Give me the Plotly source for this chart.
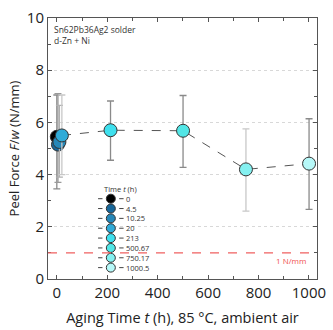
import plotly.graph_objects as go

# aging time (h) and peel force (N/mm)
times = [0, 4.5, 10.25, 20, 213, 500.67, 750.17, 1000.5]
labels = ["0", "4.5", "10.25", "20", "213", "500.67", "750.17", "1000.5"]
force = [5.45, 5.15, 5.25, 5.5, 5.7, 5.68, 4.2, 4.42]
err_up = [1.6, 1.95, 1.4, 1.55, 1.12, 1.35, 1.55, 1.72]
err_down = [2.0, 1.45, 1.35, 1.5, 1.15, 1.4, 1.6, 1.75]
colors = ["#000000", "#17679a", "#2587b8", "#30abd8", "#3ee0ee",
          "#52e6e6", "#84f0f0", "#b6f8f8"]
err_colors = ["#8a8a8a", "#9a9a9a", "#b0b0b0", "#c8c8c8", "#8a8a8a",
              "#8a8a8a", "#c8c8c8", "#8a8a8a"]

FONT = "Open Sans"
W, H = 333, 330
ML, MR, MT, MB = 48, 11, 7, 50

fig = go.Figure()

# connecting dashed line
fig.add_trace(go.Scatter(x=times, y=force, mode="lines",
                         line=dict(color="#555555", dash="dash", width=1),
                         hoverinfo="skip"))

for t, f, eu, ed, c, ec in zip(times, force, err_up, err_down, colors, err_colors):
    fig.add_trace(go.Scatter(
        x=[t], y=[f], mode="markers",
        marker=dict(size=13, color=c, line=dict(color="#333333", width=1)),
        error_y=dict(type="data", array=[eu], arrayminus=[ed], symmetric=False,
                     color=ec, thickness=1.3, width=3.5),
    ))

# hand-made compact legend on a pixel-scaled overlay axis
leg_x, leg_y0, leg_dy = 112, 196, 10.3
for i, (lab, c) in enumerate(zip(labels, colors)):
    yy = leg_y0 + i * leg_dy
    fig.add_trace(go.Scatter(x=[99, 103.5], y=[yy, yy], mode="lines", xaxis="x2", yaxis="y2",
                             line=dict(color="#444444", width=1), hoverinfo="skip"))
    fig.add_trace(go.Scatter(x=[120.5, 125], y=[yy, yy], mode="lines", xaxis="x2", yaxis="y2",
                             line=dict(color="#444444", width=1), hoverinfo="skip"))
    fig.add_trace(go.Scatter(x=[leg_x], y=[yy], mode="markers", xaxis="x2", yaxis="y2",
                             marker=dict(size=9, color=c, line=dict(color="#333333", width=1)),
                             hoverinfo="skip"))
    fig.add_annotation(x=126, y=yy, xref="x2", yref="y2", text=lab, showarrow=False,
                       xanchor="left", yanchor="middle", borderpad=0,
                       font=dict(family=FONT, size=7.5, color="#333333"))
fig.add_annotation(x=104, y=leg_y0 - 10, xref="x2", yref="y2", text="Time <i>t</i> (h)",
                   showarrow=False, xanchor="left", yanchor="middle", borderpad=0,
                   font=dict(family=FONT, size=7.5, color="#333333"))

# 1 N/mm reference line
fig.add_shape(type="line", xref="paper", x0=0, x1=1, yref="y", y0=1, y1=1,
              line=dict(color="#f06060", dash="dash", width=1.3))
fig.add_annotation(x=0.968, xref="paper", y=0.7, yref="y", text="1 N/mm",
                   showarrow=False, xanchor="right", yanchor="middle",
                   font=dict(family=FONT, size=8, color="#f05050"))

fig.add_annotation(x=0.015, xref="paper", y=0.985, yref="paper",
                   text="Sn62Pb36Ag2 solder<br>d-Zn + Ni", align="left",
                   showarrow=False, xanchor="left", yanchor="top",
                   font=dict(family=FONT, size=8.5, color="#333333"))

axis_common = dict(showline=True, linecolor="#555555", linewidth=1, mirror="ticks",
                   ticks="inside", ticklen=4, tickcolor="#555555",
                   tickfont=dict(family=FONT, size=15, color="#222222"),
                   ticklabeloverflow="allow", zeroline=False)

fig.update_xaxes(range=[-35, 1032], tickvals=[0, 200, 400, 600, 800, 1000],
                 showgrid=False,
                 minor=dict(tickvals=[100, 300, 500, 700, 900], ticks="inside",
                            ticklen=3, tickcolor="#555555"),
                 title=dict(text="Aging Time <i>t</i> (h), 85 °C, ambient air",
                            font=dict(family=FONT, size=14.5, color="#222222"),
                            standoff=11),
                 **axis_common)
fig.update_yaxes(range=[0, 10], tickvals=[0, 2, 4, 6, 8, 10],
                 showgrid=True, gridcolor="#d8d8d8", griddash="dot", gridwidth=1,
                 minor=dict(tickvals=[1, 3, 5, 7, 9], ticks="inside",
                            ticklen=3, tickcolor="#555555", showgrid=False),
                 title=dict(text="Peel Force <i>F</i>/<i>w</i> (N/mm)",
                            font=dict(family=FONT, size=13, color="#222222"),
                            standoff=4),
                 **axis_common)

fig.update_layout(
    width=W, height=H,
    margin=dict(l=ML, r=MR, t=MT, b=MB),
    plot_bgcolor="white", paper_bgcolor="white",
    showlegend=False,
    xaxis2=dict(overlaying="x", range=[ML, W - MR], visible=False, fixedrange=True),
    yaxis2=dict(overlaying="y", range=[H - MB, MT], visible=False, fixedrange=True),
)

# drop the default page margin so the figure sits at the window's corner
fig.write_html("out.html", config={"displayModeBar": False},
               post_script="document.body.style.margin='0';")
